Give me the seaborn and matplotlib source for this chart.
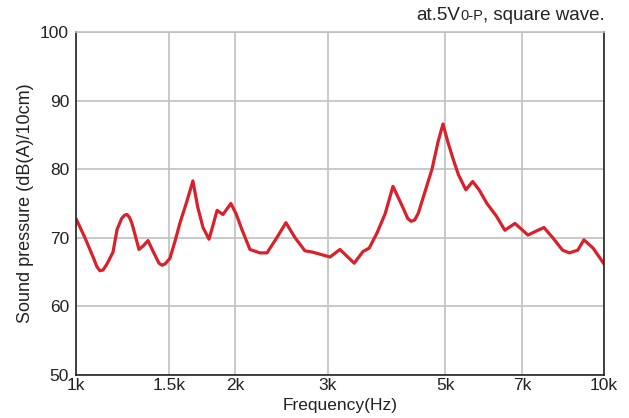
import numpy as np
import matplotlib
matplotlib.use("Agg")
import matplotlib.pyplot as plt
import seaborn as sns
import pandas as pd

sns.set_style("white")
plt.rcParams['font.family'] = ['Liberation Sans', 'DejaVu Sans']

# frequency response
freq_hz = [1000, 1040, 1080, 1095, 1110, 1125, 1145, 1175, 1196, 1220, 1236, 1249,
           1262, 1275, 1288, 1316, 1340, 1369, 1400, 1436, 1455, 1475, 1506, 1540,
           1574, 1620, 1665, 1700, 1740, 1786, 1820, 1850, 1898, 1965, 2010, 2062,
           2135, 2230, 2300, 2400, 2498, 2600, 2714, 2810, 3027, 3162, 3364, 3496,
           3592, 3716, 3850, 3984, 4150, 4250, 4314, 4380, 4450, 4723, 4850, 4955,
           5060, 5178, 5300, 5474, 5640, 5800, 6002, 6250, 6490, 6782, 7177, 7450,
           7696, 8000, 8346, 8596, 8920, 9160, 9535, 10000]
spl_db = [72.8, 70.0, 67.0, 65.8, 65.2, 65.3, 66.2, 67.9, 71.2, 72.8, 73.3, 73.4,
          73.0, 72.2, 71.0, 68.3, 68.8, 69.6, 68.0, 66.3, 66.0, 66.2, 67.0, 69.5,
          72.2, 75.2, 78.3, 74.5, 71.5, 69.8, 72.0, 74.0, 73.4, 75.0, 73.5, 71.2,
          68.3, 67.8, 67.8, 70.0, 72.2, 70.0, 68.1, 67.9, 67.2, 68.3, 66.3, 68.0,
          68.5, 70.7, 73.5, 77.5, 74.6, 72.8, 72.4, 72.6, 73.6, 80.0, 84.0, 86.6,
          84.0, 81.5, 79.2, 77.0, 78.2, 77.0, 75.0, 73.2, 71.1, 72.1, 70.4, 71.0,
          71.5, 70.0, 68.2, 67.8, 68.2, 69.7, 68.5, 66.2]

xticks = [1000, 1500, 2000, 3000, 5000, 7000, 10000]
xtick_labels = ["1k", "1.5k", "2k", "3k", "5k", "7k", "10k"]
yticks = [50, 60, 70, 80, 90, 100]

df = pd.DataFrame({"freq": freq_hz, "spl": spl_db})

fig = plt.figure(figsize=(6.29, 4.18), dpi=100)
ax = fig.add_axes([76 / 629, 43 / 418, 528 / 629, 343 / 418])

sns.lineplot(data=df, x="freq", y="spl", ax=ax, color="#d9212b", linewidth=2.3,
             sort=False, estimator=None)
ax.lines[0].set_solid_joinstyle("round")
ax.lines[0].set_solid_capstyle("round")

ax.set_xscale("log")
ax.set_xlim(1000, 10000)
ax.set_ylim(50, 100)
ax.set_xticks(xticks)
ax.set_xticklabels(xtick_labels)
ax.minorticks_off()
ax.set_yticks(yticks)
ax.grid(True, color="#c0c0c0", linewidth=1.2)
ax.tick_params(axis="both", length=0, labelsize=12.5, colors="#222222")
ax.tick_params(axis="x", pad=2)
ax.tick_params(axis="y", pad=5)

for side in ["left", "bottom", "right"]:
    ax.spines[side].set_color("#222222")
    ax.spines[side].set_linewidth(1.2)
ax.spines["top"].set_color("#c0c0c0")
ax.spines["top"].set_linewidth(1.2)

ax.set_xlabel("Frequency(Hz)", fontsize=12.5, color="#222222", labelpad=4)
ax.set_ylabel("Sound pressure (dB(A)/10cm)", fontsize=13, color="#222222", labelpad=4)

# subtitle: "at.5V" + small "0-P" + ", square wave."
fig.canvas.draw()
r = fig.canvas.get_renderer()
y_txt = 1 - 20 / 418
t3 = fig.text(605 / 629, y_txt, ", square wave.", ha="right", va="baseline",
              fontsize=13.5, color="#222222")
x3 = t3.get_window_extent(r).x0 / fig.bbox.width
t2 = fig.text(x3, y_txt, "0-P", ha="right", va="baseline", fontsize=10.5, color="#222222")
x2 = t2.get_window_extent(r).x0 / fig.bbox.width
fig.text(x2, y_txt, "at.5V", ha="right", va="baseline", fontsize=13.5, color="#222222")

fig.savefig("out.png", dpi=100)
